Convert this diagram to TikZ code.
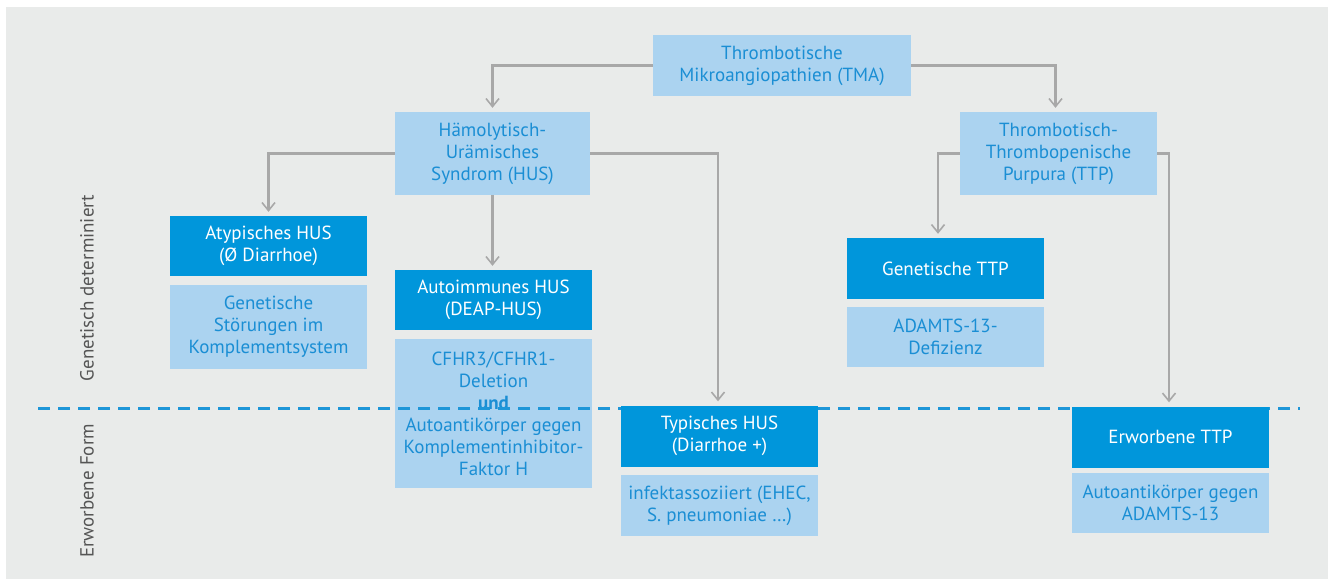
\documentclass[tikz,border=0pt]{standalone}
\usepackage{fontspec}
\setmainfont{PT Sans}
\usetikzlibrary{arrows.meta}
\definecolor{bgc}{HTML}{E9EBEA}
\definecolor{lightc}{HTML}{ABD3F0}
\definecolor{darkc}{HTML}{0096DB}
\definecolor{textc}{HTML}{1A8ED4}
\definecolor{linec}{HTML}{A8A8A8}
\definecolor{dashc}{HTML}{1E96D8}
\definecolor{sidec}{HTML}{555555}
\tikzset{
  box/.style={rectangle, inner sep=0pt, align=center, font=\fontsize{19}{22}\selectfont},
  lightbox/.style={box, fill=lightc, text=textc},
  darkbox/.style={box, fill=darkc, text=white},
  conn/.style={draw=linec, line width=2.4pt, shorten >=4pt,
    -{Straight Barb[length=8pt,width=13pt,line width=1.6pt]}},
  divider/.style={draw=dashc, line width=3pt, dash pattern=on 12pt off 8pt},
  sidelabel/.style={rotate=90, text=sidec, font=\fontsize{19}{22}\selectfont}
}
\begin{document}
\begin{tikzpicture}[x=1pt,y=-1pt]
\useasboundingbox (0,0) rectangle (1328,579);
\fill[bgc] (6,7) rectangle (1328,579);

% top level
\node[lightbox, minimum width=258pt, minimum height=61pt] (tma) at (782,65.5)
  {Thrombotische\\Mikroangiopathien (TMA)};
\node[lightbox, minimum width=195pt, minimum height=83pt] (hus) at (492.5,153.5)
  {Hämolytisch-\\Urämisches\\Syndrom (HUS)};
\node[lightbox, minimum width=197pt, minimum height=83pt] (ttp) at (1058.5,153.5)
  {Thrombotisch-\\Thrombopenische\\Purpura (TTP)};

% HUS branch
\node[darkbox, minimum width=197pt, minimum height=60pt] (ahus) at (268.5,246)
  {Atypisches HUS\\(Ø Diarrhoe)};
\node[lightbox, minimum width=197pt, minimum height=84pt] (gen) at (268.5,327)
  {Genetische\\Störungen im\\Komplementsystem};
\node[darkbox, minimum width=197pt, minimum height=60pt] (autohus) at (493.5,300)
  {Autoimmunes HUS\\(DEAP-HUS)};
\node[lightbox, minimum width=197pt, minimum height=149pt] (cfhr) at (493.5,413.5)
  {CFHR3/CFHR1-\\Deletion\\\textbf{und}\\Autoantikörper gegen\\Komplementinhibitor-\\Faktor H};

% TTP branch
\node[darkbox, minimum width=197pt, minimum height=61pt] (genttp) at (945.5,268.5)
  {Genetische TTP};
\node[lightbox, minimum width=197pt, minimum height=60pt] (adamts) at (945.5,337)
  {ADAMTS-13-\\Defizienz};

% boundary between inherited and acquired forms
\coordinate (divL) at (38,408);
\coordinate (divR) at (1300,408);
\draw[divider] (divL) -- (divR);

\node[darkbox, minimum width=197pt, minimum height=61pt] (thus) at (719.5,436)
  {Typisches HUS\\(Diarrhoe +)};
\node[lightbox, minimum width=197pt, minimum height=61pt] (infekt) at (719.5,505.5)
  {infektassoziiert (EHEC,\\S. pneumoniae …)};
\node[darkbox, minimum width=197pt, minimum height=61pt] (erwttp) at (1170.5,437)
  {Erworbene TTP};
\node[lightbox, minimum width=197pt, minimum height=60pt] (auto13) at (1170.5,503)
  {Autoantikörper gegen\\ADAMTS-13};

% side labels
\node[sidelabel] (lblgen) at (87,288) {Genetisch determiniert};
\node[sidelabel] (lblerw) at (87,491) {Erworbene Form};

% connectors
\draw[conn] (tma.west) -| (hus.north);
\draw[conn] (tma.east) -| ([xshift=-3pt]ttp.north);
\draw[conn] (hus.west) -| (ahus.north);
\draw[conn] (hus.south) -- (hus.south |- autohus.north);
\draw[conn] (hus.east) -| ([xshift=-1.5pt]thus.north);
\draw[conn] (ttp.west) -| ([xshift=-7.5pt]genttp.north);
\draw[conn] (ttp.east) -| ([xshift=-1.5pt]erwttp.north);
\end{tikzpicture}
\end{document}
